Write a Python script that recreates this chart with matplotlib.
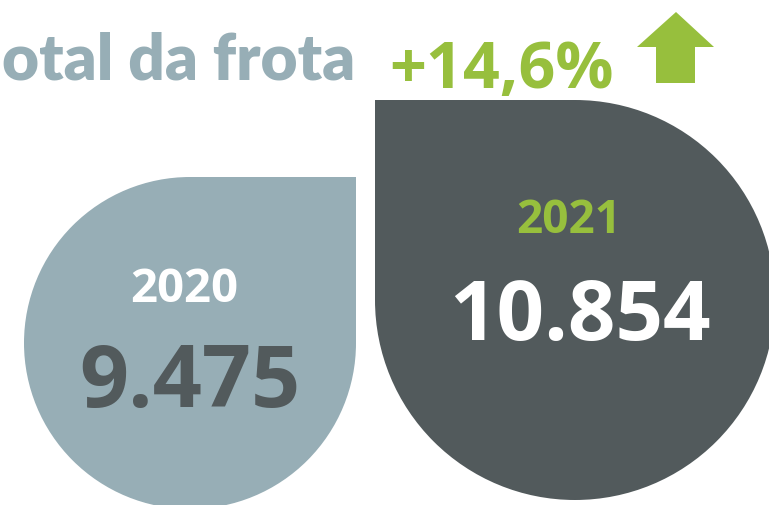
import matplotlib
matplotlib.use("Agg")
import matplotlib.pyplot as plt
from matplotlib.patches import Circle, Rectangle, Polygon

# ---- data ----
years = ["2020", "2021"]
fleet_values = [9475, 10854]
growth_pct = 14.6
title_text = "otal da frota"   # visible part of the (cropped) title

def fmt_thousands(v):
    return f"{v:,}".replace(",", ".")

def fmt_pct(p):
    return "+" + f"{p:.1f}".replace(".", ",") + "%"

# ---- styling ----
C_LIGHT = "#97AEB6"
C_DARK = "#525A5C"
C_GREEN = "#97BF3D"
FONT = "Open Sans"

W, H = 769, 505
fig = plt.figure(figsize=(W / 100, H / 100), dpi=100)
ax = fig.add_axes([0, 0, 1, 1])
ax.set_xlim(0, W)
ax.set_ylim(H, 0)
ax.axis("off")

# teardrop shapes: circle plus one square corner
drops = [
    dict(cx=190, cy=343, r=166, sx=1, sy=-1, color=C_LIGHT),
    dict(cx=575, cy=300, r=200, sx=-1, sy=-1, color=C_DARK),
]
for d in drops:
    ax.add_patch(Circle((d["cx"], d["cy"]), d["r"], color=d["color"], lw=0))
    x0 = d["cx"] if d["sx"] > 0 else d["cx"] - d["r"]
    y0 = d["cy"] - d["r"] if d["sy"] < 0 else d["cy"]
    ax.add_patch(Rectangle((x0, y0), d["r"], d["r"], color=d["color"], lw=0))

# title
ax.text(2, 80, title_text, ha="left", va="baseline", fontsize=46,
        fontweight="heavy", color=C_LIGHT, family="Lato")

# growth label + arrow
ax.text(389, 88, fmt_pct(growth_pct), ha="left", va="baseline", fontsize=46.5,
        fontweight="bold", color=C_GREEN, family=FONT)
arrow = [(676, 12), (714, 47), (695, 47), (695, 83), (656, 83), (656, 47), (637, 47)]
ax.add_patch(Polygon(arrow, closed=True, color=C_GREEN, lw=0))

# year labels and values
year_style = [dict(x=184, y=302, size=34, color="white"),
              dict(x=569, y=233, size=33, color=C_GREEN)]
val_style = [dict(x=190, y=407, size=62, color=C_DARK),
             dict(x=580, y=340, size=60, color="white")]
for yr, v, ys, vs in zip(years, fleet_values, year_style, val_style):
    ax.text(ys["x"], ys["y"], yr, ha="center", va="baseline", fontsize=ys["size"],
            fontweight="bold", color=ys["color"], family=FONT)
    ax.text(vs["x"], vs["y"], fmt_thousands(v), ha="center", va="baseline",
            fontsize=vs["size"], fontweight="bold", color=vs["color"], family=FONT)

fig.savefig("out.png", dpi=100)
